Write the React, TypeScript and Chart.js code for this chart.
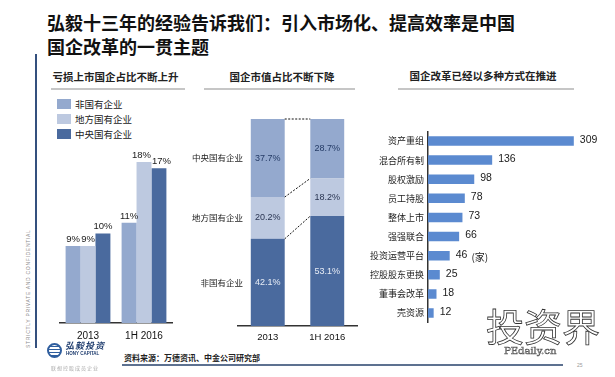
import React, { useEffect, useRef } from "react";
import { Chart, registerables } from "chart.js";

Chart.register(...registerables);

const FONT = "'Liberation Sans', 'Noto Sans CJK SC', sans-serif";
const CJK = "'Noto Sans CJK SC', 'Liberation Sans', sans-serif";

// ---------- Panel 1: 亏损上市国企占比 ----------
const lossCategories = ["2013", "1H 2016"];
const lossSeriesNames = ["非国有企业", "地方国有企业", "中央国有企业"];
const lossNonState = [8.6, 11.2];
const lossLocal = [8.6, 18.0];
const lossCentral = [10.0, 17.3];
const lossColors = ["#94A9CE", "#BDC9E0", "#4A6A9E"];

// ---------- Panel 2: 国企市值占比 ----------
const capCategories = ["2013", "1H 2016"];
const capSeriesNames = ["非国有企业", "地方国有企业", "中央国有企业"];
const capNonState = [42.1, 53.1];
const capLocal = [20.2, 18.2];
const capCentral = [37.7, 28.7];
const capColors = ["#4A6A9E", "#BDC9E0", "#94A9CE"];
const capLabelColors = ["#E8EDF6", "#2A3552", "#243B66"];

// ---------- Panel 3: 国企改革方式 ----------
const reformCategories = [
  "资产重组",
  "混合所有制",
  "股权激励",
  "员工持股",
  "整体上市",
  "强强联合",
  "投资运营平台",
  "控股股东更换",
  "董事会改革",
  "壳资源",
];
const reformValues = [309, 136, 98, 78, 73, 66, 46, 25, 18, 12];
const reformUnit = "(家)";
const reformUnitCategory = "投资运营平台";

function LossChart() {
  const ref = useRef<HTMLCanvasElement>(null);
  useEffect(() => {
    const labelPlugin = {
      id: "lossLabels",
      afterDatasetsDraw(chart: any) {
        const ctx = chart.ctx;
        ctx.save();
        ctx.font = `9.5px ${FONT}`;
        ctx.fillStyle = "#1a1a1a";
        ctx.textAlign = "center";
        ctx.textBaseline = "bottom";
        const n = chart.data.labels.length;
        for (let j = 0; j < n; j++) {
          // gather labels of this category, then push apart overlapping neighbours
          const items = chart.data.datasets.map((ds: any, i: number) => {
            const bar = chart.getDatasetMeta(i).data[j];
            const text = Math.round(ds.data[j]) + "%";
            return { text, x: bar.x, y: bar.y - 2, w: ctx.measureText(text).width };
          });
          for (let k = 1; k < items.length; k++) {
            const a = items[k - 1];
            const b = items[k];
            if (Math.abs(a.y - b.y) < 11) {
              const overlap = a.x + a.w / 2 - (b.x - b.w / 2) + 1;
              if (overlap > 0) {
                a.x -= overlap / 2;
                b.x += overlap / 2;
              }
            }
          }
          items.forEach((it: any) => ctx.fillText(it.text, it.x, it.y));
        }
        ctx.restore();
      },
    };
    const chart = new Chart(ref.current as HTMLCanvasElement, {
      type: "bar",
      data: {
        labels: lossCategories,
        datasets: [
          { label: lossSeriesNames[0], data: lossNonState, backgroundColor: lossColors[0] },
          { label: lossSeriesNames[1], data: lossLocal, backgroundColor: lossColors[1] },
          { label: lossSeriesNames[2], data: lossCentral, backgroundColor: lossColors[2] },
        ],
      },
      options: {
        animation: false,
        responsive: false,
        maintainAspectRatio: false,
        layout: { padding: { left: 10, right: 13, top: 4, bottom: 0 } },
        datasets: { bar: { barPercentage: 1, categoryPercentage: 0.8 } },
        plugins: { legend: { display: false }, tooltip: { enabled: false } },
        scales: {
          x: {
            grid: { display: false, drawTicks: false },
            border: { display: true, color: "#333", width: 1.5 },
            ticks: { font: { size: 10, family: FONT }, color: "#111", padding: 7 },
            afterFit: (s: any) => {
              s.height = 22;
            },
          },
          y: { display: false, min: 0, max: 20 },
        },
      } as any,
      plugins: [labelPlugin],
    });
    return () => chart.destroy();
  }, []);
  return (
    <canvas
      ref={ref}
      width={135}
      height={205}
      style={{ position: "absolute", left: 50, top: 140, width: 135, height: 205 }}
    />
  );
}

function CapChart() {
  const ref = useRef<HTMLCanvasElement>(null);
  useEffect(() => {
    const plugin = {
      id: "capLabels",
      afterDatasetsDraw(chart: any) {
        const ctx = chart.ctx;
        ctx.save();
        // dashed connectors
        ctx.strokeStyle = "#111";
        ctx.lineWidth = 1;
        ctx.setLineDash([2, 1.5]);
        chart.data.datasets.forEach((ds: any, i: number) => {
          const bars = chart.getDatasetMeta(i).data;
          const a = bars[0];
          const b = bars[1];
          ctx.beginPath();
          ctx.moveTo(a.x + a.width / 2, a.y);
          ctx.lineTo(b.x - b.width / 2, b.y);
          ctx.stroke();
        });
        ctx.setLineDash([]);
        // value labels
        ctx.font = `9px ${FONT}`;
        ctx.textAlign = "center";
        ctx.textBaseline = "middle";
        chart.data.datasets.forEach((ds: any, i: number) => {
          ctx.fillStyle = capLabelColors[i];
          chart.getDatasetMeta(i).data.forEach((bar: any, j: number) => {
            ctx.fillText(ds.data[j].toFixed(1) + "%", bar.x, (bar.y + bar.base) / 2);
          });
        });
        // series names on the left
        ctx.font = `8.5px ${CJK}`;
        ctx.fillStyle = "#222";
        ctx.textAlign = "right";
        chart.data.datasets.forEach((ds: any, i: number) => {
          const bar = chart.getDatasetMeta(i).data[0];
          ctx.fillText(ds.label, chart.chartArea.left + 5, (bar.y + bar.base) / 2);
        });
        ctx.restore();
      },
    };
    const chart = new Chart(ref.current as HTMLCanvasElement, {
      type: "bar",
      data: {
        labels: capCategories,
        datasets: [
          { label: capSeriesNames[0], data: capNonState, backgroundColor: capColors[0] },
          { label: capSeriesNames[1], data: capLocal, backgroundColor: capColors[1] },
          { label: capSeriesNames[2], data: capCentral, backgroundColor: capColors[2] },
        ],
      },
      options: {
        animation: false,
        responsive: false,
        maintainAspectRatio: false,
        layout: { padding: { left: 53, right: 8, top: 14, bottom: 0 } },
        datasets: { bar: { barPercentage: 0.57, categoryPercentage: 1 } },
        plugins: { legend: { display: false }, tooltip: { enabled: false } },
        scales: {
          x: {
            stacked: true,
            grid: { display: false, drawTicks: false },
            border: { display: true, color: "#333", width: 1.5 },
            ticks: { font: { size: 9.5, family: FONT }, color: "#111", padding: 6 },
            afterFit: (s: any) => {
              s.height = 19;
            },
          },
          y: { stacked: true, display: false, min: 0, max: 100 },
        },
      } as any,
      plugins: [plugin],
    });
    return () => chart.destroy();
  }, []);
  return (
    <canvas
      ref={ref}
      width={180}
      height={240}
      style={{ position: "absolute", left: 185, top: 105, width: 180, height: 240 }}
    />
  );
}

function ReformChart() {
  const ref = useRef<HTMLCanvasElement>(null);
  useEffect(() => {
    const plugin = {
      id: "reformLabels",
      afterDatasetsDraw(chart: any) {
        const ctx = chart.ctx;
        ctx.save();
        ctx.font = `10.5px ${FONT}`;
        ctx.fillStyle = "#1a1a1a";
        ctx.textAlign = "left";
        ctx.textBaseline = "middle";
        const ds = chart.data.datasets[0];
        chart.getDatasetMeta(0).data.forEach((bar: any, j: number) => {
          const txt = String(ds.data[j]);
          ctx.fillText(txt, bar.x + 6, bar.y - 1);
          if (chart.data.labels[j] === reformUnitCategory) {
            const w = ctx.measureText(txt).width;
            ctx.font = `10px ${CJK}`;
            ctx.fillText(reformUnit, bar.x + 6 + w + 4, bar.y + 2);
            ctx.font = `10.5px ${FONT}`;
          }
        });
        ctx.restore();
      },
    };
    const chart = new Chart(ref.current as HTMLCanvasElement, {
      type: "bar",
      data: {
        labels: reformCategories,
        datasets: [{ label: "家", data: reformValues, backgroundColor: "#5B8AD0" }],
      },
      options: {
        indexAxis: "y",
        animation: false,
        responsive: false,
        maintainAspectRatio: false,
        layout: { padding: { left: 0, right: 36, top: 8, bottom: 9 } },
        datasets: { bar: { barPercentage: 0.5, categoryPercentage: 1 } },
        plugins: { legend: { display: false }, tooltip: { enabled: false } },
        scales: {
          x: { display: false, min: 0, max: 320 },
          y: {
            grid: { display: false, drawTicks: false },
            border: { display: true, color: "#333", width: 1.5 },
            ticks: { font: { size: 9, family: CJK }, color: "#222", padding: 4 },
            afterFit: (s: any) => {
              s.width = 58;
            },
          },
        },
      } as any,
      plugins: [plugin],
    });
    return () => chart.destroy();
  }, []);
  return (
    <canvas
      ref={ref}
      width={245}
      height={210}
      style={{ position: "absolute", left: 370, top: 122, width: 245, height: 210 }}
    />
  );
}

const abs = (s: React.CSSProperties): React.CSSProperties => ({ position: "absolute", ...s });

export default function App() {
  useEffect(() => {
    document.body.style.margin = "0";
  }, []);
  const header: React.CSSProperties = {
    fontFamily: CJK,
    fontSize: 10.5,
    fontWeight: 700,
    color: "#222",
    textAlign: "center",
    lineHeight: "14px",
    whiteSpace: "nowrap",
  };
  const rule: React.CSSProperties = { height: 2, background: "#C6C6C6" };
  return (
    <div
      style={{
        position: "fixed",
        left: 0,
        top: 0,
        width: 615,
        height: 377,
        background: "#fff",
        overflow: "hidden",
        fontFamily: FONT,
      }}
    >
      {/* Title */}
      <div
        style={abs({
          left: 47,
          top: 10,
          fontFamily: CJK,
          fontSize: 18,
          fontWeight: 700,
          lineHeight: "24px",
          color: "#111",
          whiteSpace: "nowrap",
        })}
      >
        弘毅十三年的经验告诉我们：引入市场化、提高效率是中国
        <br />
        国企改革的一贯主题
      </div>

      {/* left vertical rule */}
      <div style={abs({ left: 35, top: 54, width: 1.5, height: 294, background: "#34507E" })} />
      <div
        style={abs({
          left: 25,
          top: 348,
          transform: "rotate(-90deg)",
          transformOrigin: "left top",
          fontSize: 5,
          letterSpacing: 0.7,
          lineHeight: "7px",
          color: "#8a8a8a",
          whiteSpace: "nowrap",
          fontFamily: FONT,
        })}
      >
        STRICTLY PRIVATE AND CONFIDENTIAL
      </div>

      {/* panel headers */}
      <div style={abs({ ...header, left: 48, width: 135, top: 70 })}>亏损上市国企占比不断上升</div>
      <div style={abs({ ...rule, left: 51, width: 134, top: 88 })} />
      <div style={abs({ ...header, left: 207, width: 150, top: 70 })}>国企市值占比不断下降</div>
      <div style={abs({ ...rule, left: 204, width: 151, top: 88 })} />
      <div style={abs({ ...header, left: 395, width: 176, top: 69 })}>国企改革已经以多种方式在推进</div>
      <div style={abs({ ...rule, left: 398, width: 176, top: 88 })} />

      {/* legend for panel 1 */}
      {lossSeriesNames.map((name, i) => (
        <React.Fragment key={name}>
          <div style={abs({ left: 57, top: 99 + i * 15, width: 14, height: 10, background: lossColors[i] })} />
          <div
            style={abs({
              left: 75,
              top: 97 + i * 15,
              fontFamily: CJK,
              fontSize: 9.5,
              lineHeight: "14px",
              color: "#222",
              whiteSpace: "nowrap",
            })}
          >
            {name}
          </div>
        </React.Fragment>
      ))}

      <LossChart />
      <CapChart />
      <ReformChart />

      {/* source + bottom rule */}
      <div
        style={abs({
          left: 124,
          top: 352,
          fontFamily: CJK,
          fontSize: 8,
          fontWeight: 700,
          lineHeight: "11px",
          color: "#222",
          whiteSpace: "nowrap",
        })}
      >
        资料来源：万德资讯、中金公司研究部
      </div>
      <div style={abs({ left: 122, top: 364, width: 441, height: 1.5, background: "#5D7190" })} />
      <div style={abs({ left: 577, top: 362, fontSize: 5, color: "#999" })}>25</div>

      {/* logo */}
      <div
        style={abs({
          left: 47,
          top: 343,
          width: 11,
          height: 11,
          borderRadius: "50%",
          border: "2px solid #2F5E9E",
          background: "repeating-linear-gradient(0deg, #2F5E9E 0 1px, #fff 1px 3px)",
        })}
      />
      <div
        style={abs({
          left: 65,
          top: 340,
          fontFamily: CJK,
          fontSize: 9,
          fontWeight: 700,
          fontStyle: "italic",
          letterSpacing: 1,
          color: "#1E3C6E",
          whiteSpace: "nowrap",
          lineHeight: "11px",
        })}
      >
        弘毅投资
      </div>
      <div
        style={abs({
          left: 66,
          top: 351,
          fontSize: 4.5,
          fontWeight: 700,
          color: "#1E3C6E",
          whiteSpace: "nowrap",
          lineHeight: "6px",
        })}
      >
        HONY CAPITAL
      </div>
      <div
        style={abs({
          left: 51,
          top: 364,
          fontFamily: CJK,
          fontSize: 5,
          color: "#aaa",
          whiteSpace: "nowrap",
          letterSpacing: 1,
        })}
      >
        联想控股成员企业
      </div>

      {/* watermark */}
      <div
        style={abs({
          left: 486,
          top: 302,
          fontFamily: CJK,
          fontSize: 38,
          fontWeight: 400,
          color: "transparent",
          WebkitTextStroke: "0.8px #333",
          whiteSpace: "nowrap",
          lineHeight: "46px",
        } as any)}
      >
        投资界
      </div>
      <div
        style={abs({
          left: 504,
          top: 345,
          fontFamily: "'DejaVu Serif', serif",
          fontSize: 10,
          color: "transparent",
          WebkitTextStroke: "0.6px #555",
          whiteSpace: "nowrap",
        } as any)}
      >
        PEdaily.cn
      </div>
    </div>
  );
}
